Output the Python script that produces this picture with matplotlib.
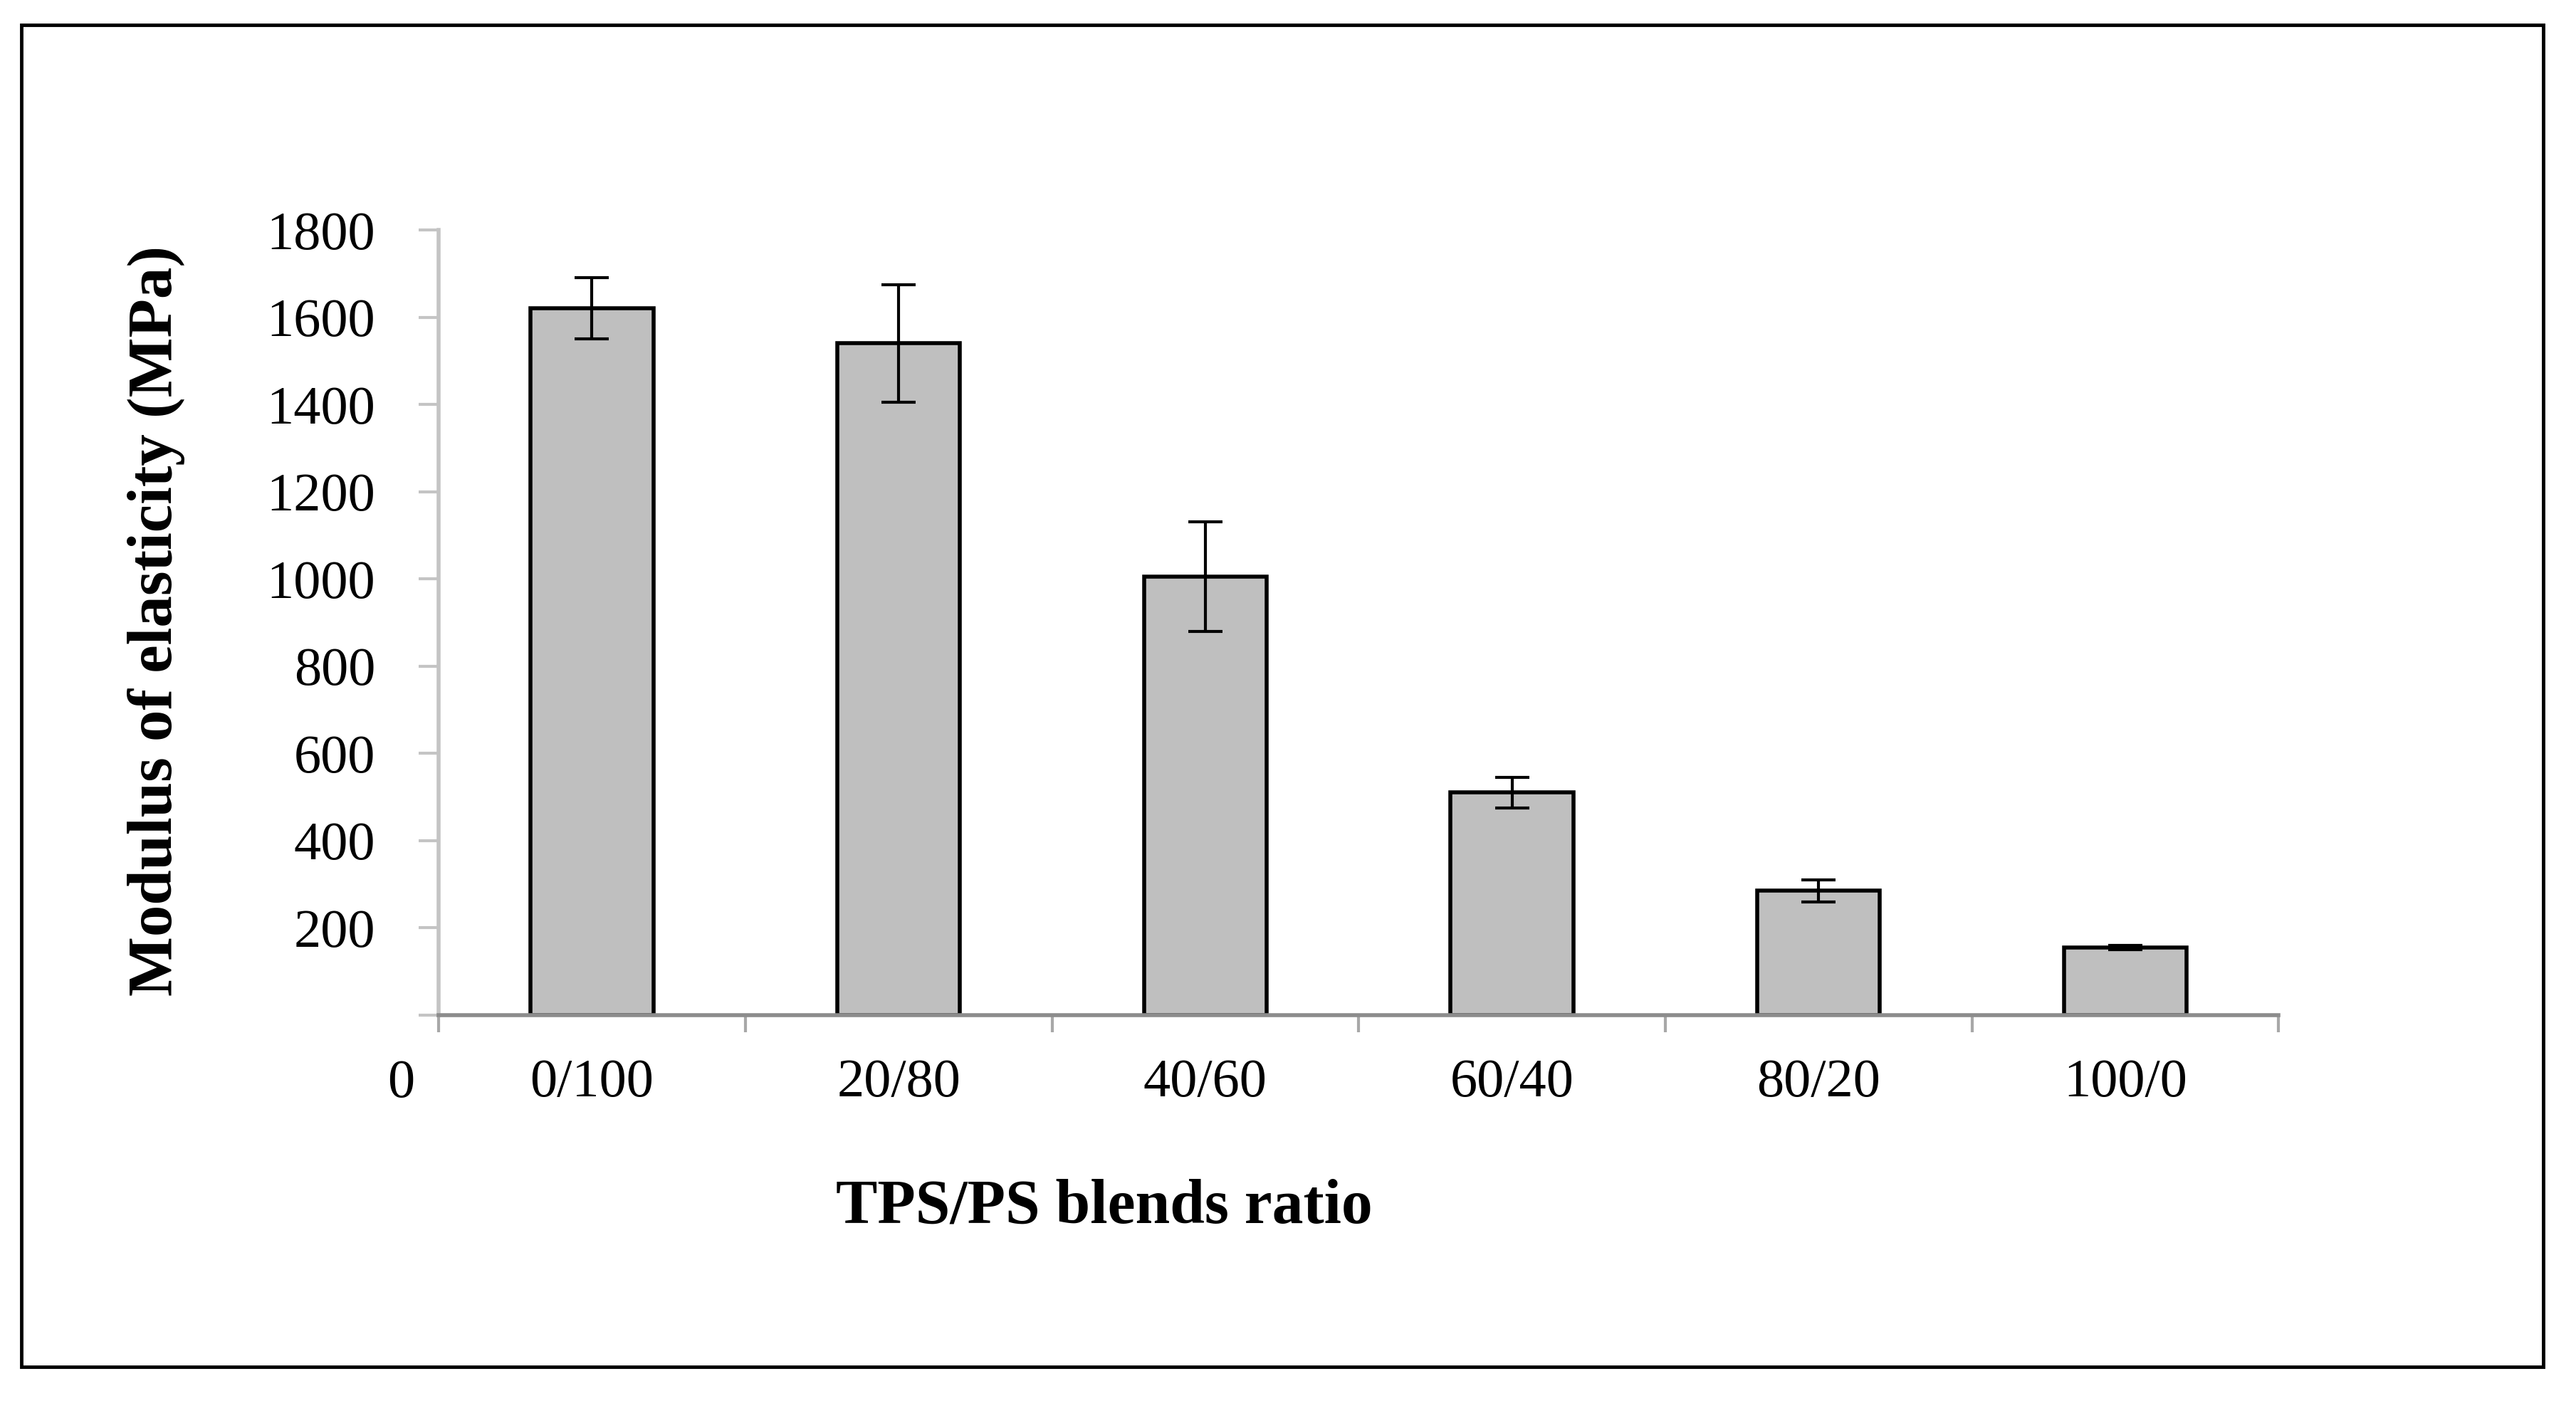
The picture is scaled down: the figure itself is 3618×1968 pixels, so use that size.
import matplotlib
matplotlib.use('Agg')
import matplotlib.pyplot as plt
from matplotlib.patches import Rectangle

# Data
ratios = ['0/100', '20/80', '40/60', '60/40', '80/20', '100/0']
modulus = [1620, 1540, 1005, 510, 285, 155]
errors = [70, 135, 125, 35, 25, 5]
yticks = [0, 200, 400, 600, 800, 1000, 1200, 1400, 1600, 1800]

plt.rcParams['font.family'] = ['Liberation Serif', 'DejaVu Serif']

W, H = 3618, 1968
fig = plt.figure(figsize=(W / 100, H / 100), dpi=100)

# outer frame round the figure
fig.patches.append(Rectangle((13 / 1568, 1 - 832 / 853), (1548 - 13) / 1568, (832 - 15) / 853,
                             transform=fig.transFigure, fill=False, edgecolor='black',
                             linewidth=3.5))

left, right = 267 / 1568, 1387 / 1568
bottom, top = 1 - 618 / 853, 1 - 140 / 853
ax = fig.add_axes([left, bottom, right - left, top - bottom])

x = list(range(len(ratios)))
ax.bar(x, modulus, width=0.4, color='#bfbfbf', edgecolor='black', linewidth=4, zorder=2)
ax.errorbar(x, modulus, yerr=errors, fmt='none', ecolor='black', elinewidth=3,
            capsize=17, capthick=3, zorder=3)

ax.set_xlim(-0.5, len(ratios) - 0.5)
ax.set_ylim(0, 1800)

# y axis
ax.set_yticks(yticks)
ax.set_yticklabels([''] + [str(v) for v in yticks[1:]])
ax.tick_params(axis='y', direction='out', length=20, width=3, color='#c4c4c4',
               labelsize=55, pad=44)

# x axis: category boundaries as minor ticks, labels at centres
ax.set_xticks(x)
ax.set_xticklabels(ratios)
ax.set_xticks([i - 0.5 for i in range(len(ratios) + 1)], minor=True)
ax.tick_params(axis='x', which='major', length=0, labelsize=55, pad=44)
ax.tick_params(axis='x', which='minor', direction='out', length=17, width=3, color='#a8a8a8')

for s in ['top', 'right']:
    ax.spines[s].set_visible(False)
ax.spines['left'].set_color('#c4c4c4')
ax.spines['left'].set_linewidth(4)
ax.spines['bottom'].set_color('#8c8c8c')
ax.spines['bottom'].set_linewidth(4)

# stray zero label below the origin
fig.text(244 / 1568, 1 - 660 / 853, '0', fontsize=55, ha='center', va='center')

fig.text(95 / 1568, 1 - 378 / 853, 'Modulus of elasticity (MPa)', rotation=90,
         fontsize=64, fontweight='bold', ha='center', va='center')
fig.text(672 / 1568, 1 - 735 / 853, 'TPS/PS blends ratio',
         fontsize=63, fontweight='bold', ha='center', va='center')

fig.savefig('out.png', dpi=100)
